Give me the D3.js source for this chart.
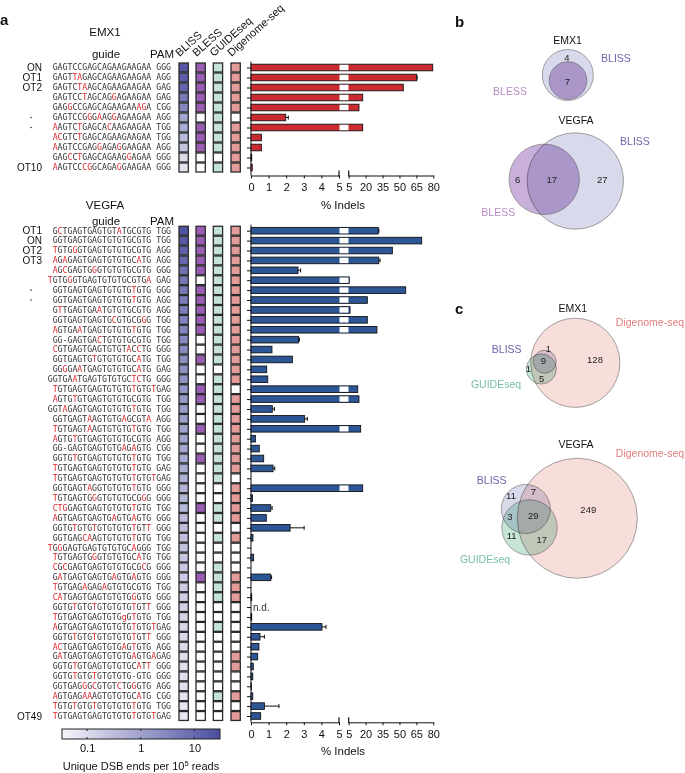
<!DOCTYPE html>
<html>
<head>
<meta charset="utf-8">
<script src="https://d3js.org/d3.v7.min.js"></script>
<style>
  body { margin: 0; background: #fff; }
  text { font-family: "Liberation Sans", Arial, sans-serif; fill: #111; }
  .seq { font-family: "DejaVu Sans Mono", monospace; font-size: 8.2px; white-space: pre; fill: #333; }
</style>
</head>
<body>
<script>
// ---------------- data ----------------
// lowercase letter = mismatch (drawn red), "%x" = red letter kept as typed
const emx1Labels = ["ON", "OT1", "OT2", "", "", "", "", "", "", "", "OT10"];
const emx1Seqs = [
  "GAGTCCGAGCAGAAGAAGAA GGG",
  "GAGTtaGAGCAGAAGAAGAA AGG",
  "GAGTCtaAGCAGAAGAAGAA GAG",
  "GAGTCCtAGCAGgAGAAGAA GAG",
  "GAGgCCGAGCAGAAGAAagA CGG",
  "GAGTCCGgGaAGgAGAAGAA AGG",
  "aAGTCtGAGCAcAAGAAGAA TGG",
  "acGTCtGAGCAGAAGAAGAA TGG",
  "aAGTCCGAGgAGAgGAAGAA AGG",
  "GAGcCtGAGCAGAAGgAGAA GGG",
  "aAGTCCcgGCAGAgGAAGAA GGG"
];
const emx1Bliss = [19, 15, 11, 5, 3, 0.9, 0.7, 0.4, 0.25, 0.1, 0.07];
const emx1Bless = [1, 1, 1, 1, 1, 0, 1, 1, 1, 0, 0];
const emx1Guide = [1, 1, 1, 1, 1, 1, 1, 1, 1, 0, 1];
const emx1Digenome = [1, 1, 1, 1, 1, 0, 1, 1, 1, 1, 1];
const emx1Indels = [79.5, 65.3, 53.4, 17.4, 14.1, 1.97, 17.4, 0.59, 0.59, 0.04, 0.07];
const emx1Err = [0, 0.4, 0, 0, 0, 0.15, 0, 0, 0, 0, 0];

const vegfaLabels = ["OT1", "ON", "OT2", "OT3"].concat(d3.range(45).map(() => ""), ["OT49"]);
const vegfaSeqs = [
  "GcTGAGTGAGTGTaTGCGTG TGG",
  "GGTGAGTGAGTGTGTGCGTG TGG",
  "tGTGgGTGAGTGTGTGCGTG AGG",
  "aGaGAGTGAGTGTGTGCaTG AGG",
  "aGcGAGTGgGTGTGTGCGTG GGG",
  "tGTGgGTGAGTGTGTGCGTGa GAG",
  "GGTGAGTGAGTGTGTGtGTG GGG",
  "GGTGAGTGAGTGTGTGtGTG AGG",
  "GtTGAGTGAaTGTGTGCGTG AGG",
  "GGTGAGTGAGTGcGTGCGgG TGG",
  "aGTGAaTGAGTGTGTGtGTG TGG",
  "GG-GAGTGAcTGTGTGCGTG TGG",
  "cGTGAGTGAGTGTGTaCcTG GGG",
  "GGTGAGTGtGTGTGTGCaTG TGG",
  "GGgGAaTGAGTGTGTGCaTG GAG",
  "GGTGAaTGAGTGTGTGCtcTG GGG",
  "tGTGAGTGAGTGTGTGtGTGtGAG",
  "aGTGtGTGAGTGTGTGCGTG TGG",
  "GGTaGAGTGAGTGTGTGtGTG TGG",
  "GGTGAGTaAGTGTGaGCGTa AGG",
  "tGTGAGTaAGTGTGTGtGTG TGG",
  "aGTGtGTGAGTGTGTGCGTG AGG",
  "GG-GAGTGAGTGTGaGaGTG CGG",
  "GGTGtGTGAGTGTGTGtGTG TGG",
  "tGTGAGTGAGTGTGTGtGTG GAG",
  "tGTGAGTGAGTGTGTGtGTGtGAG",
  "GGTGAGTaGGTGTGTGtGTG GGG",
  "tGTGAGTGgGTGTGTGCGgG GGG",
  "ctgGAGTGAGTGTGTGtGTG TGG",
  "aGTGAGTGAGTGaGTGaGTG GGG",
  "GGTGtGTGtGTGTGTGtGTt GGG",
  "GGTGAGcaAGTGTGTGtGTG TGG",
  "tGgGAGTGAGTGTGTGCaGGG TGG",
  "tGTGAGTGgGTGTGTGCaTG TGG",
  "cGcGAGTGAGTGTGTGCGcG GGG",
  "GaTGAGTGAGTGaGTGaGTG GGG",
  "tGTGAGaGAGaGTGTGCGTG TGG",
  "caTGAGTGAGTGTGTGgGTG GGG",
  "GGTGtGTGtGTGTGTGtGTt GGG",
  "tGTGAGTGAGTGTG%gGtGTG TGG",
  "aGTGAGTGAGTGTGTGtGTGtGAG",
  "GGTGtGTGtGTGTGTGtGTt GGG",
  "acTGAGTGAGTGTGaGtGTG AGG",
  "GaTGAGTGAGTGTGTGaGTGaGAG",
  "GGTGtGTGAGTGTGTGCaTt GGG",
  "GGTGtGTGtGTGTGTG-GTG GGG",
  "GGTGAGgGcGTGTcTGgGTG AGG",
  "aGTGAGaaAGTGTGTGCaTG CGG",
  "tGTGtGTGtGTGTGTGtGTG TGG",
  "tGTGAGTGAGTGTGTGtGTGtGAG"
];
const vegfaBliss = [24, 18, 13, 10, 7, 6, 5.2, 4.6, 4, 3.6, 3.2, 2.8, 2.5, 2.2, 2, 1.8, 1.6, 1.4,
  1.25, 1.1, 1, 0.9, 0.8, 0.72, 0.65, 0.58, 0.52, 0.47, 0.42, 0.38, 0.34, 0.3, 0.27, 0.24,
  0.22, 0.2, 0.18, 0.16, 0.15, 0.13, 0.12, 0.11, 0.1, 0.09, 0.085, 0.08, 0.075, 0.07, 0.065, 0.06];
const vegfaBless = [1,1,1,1,1,0,1,1,1,1, 1,0,0,1,0,0,1,1,0,0, 1,0,0,1,0,0,0,0,1,0,
  0,0,0,0,0,1,0,0,0,0, 0,0,0,0,0,0,0,0,0,0];
const vegfaGuide = [1,1,1,1,1,1,1,1,1,1, 1,1,1,1,0,1,1,1,1,1, 1,1,1,1,1,1,0,0,1,1,
  0,1,0,0,1,1,1,1,0,0, 1,0,0,0,0,0,0,1,0,0];
const vegfaDigenome = [1,1,1,1,1,1,1,1,1,1, 1,1,1,1,1,1,0,1,1,1, 1,1,1,1,1,0,1,1,1,1,
  0,1,0,0,0,1,1,1,0,0, 0,0,0,1,1,0,0,1,0,1];
const vegfaIndels = [31.2, 69.7, 43.7, 31.6, 2.67, 5.5, 55.5, 21.5, 6.2, 21.5,
  30, 2.7, 1.19, 2.35, 0.89, 0.95, 13, 14.1, 1.21, 3.05,
  15.6, 0.25, 0.47, 0.72, 1.25, 0, 17.4, 0.08, 1.12, 0.87,
  2.22, 0.11, 0, 0.15, 0, 1.12, 0, 0.04, null, 0.04,
  4.03, 0.51, 0.45, 0.38, 0.13, 0.1, 0.02, 0.1, 0.76, 0.55];
const vegfaErr = [0.6, 0, 0, 1.2, 0.15, 0, 0, 0, 0, 0,
  0, 0.05, 0, 0, 0, 0, 0, 0, 0.12, 0.15,
  0, 0, 0, 0, 0.1, 0, 0, 0, 0.08, 0,
  0.8, 0, 0, 0, 0, 0.05, 0, 0, 0, 0,
  0.23, 0.25, 0, 0, 0, 0, 0, 0, 0.83, 0];

const indelTicksA = [0, 1, 2, 3, 4, 5];
const indelTicksB = [5, 20, 35, 50, 65, 80];
const colorbarTicks = [0.1, 1, 10];

const vennBEmx1 = [4, 7];          // BLISS only, BLISS & BLESS
const vennBVegfa = [6, 17, 27];    // BLESS only, both, BLISS only
const vennCEmx1 = [1, 9, 1, 5, 128];
const vennCVegfa = [11, 7, 3, 29, 11, 17, 249];

// ---------------- setup ----------------
const W = 685, H = 773;
const svg = d3.select("body").append("svg").attr("width", W).attr("height", H);
svg.append("rect").attr("width", W).attr("height", H).attr("fill", "#fff");

const blissColor = d3.scaleLog().domain([0.034, 30]).range(["#f6f6fb", "#4a4d9e"]).clamp(true);
const colX = [179, 196, 213.3, 231];
const cellW = 9.3;
const onColors = [null, "#9a5db4", "#c4e3d6", "#e39c9a"];
const xA = d3.scaleLinear().domain([0, 5]).range([251, 339]);
const xB = d3.scaleLinear().domain([5, 80]).range([348.7, 433.3]);
const xv = v => v <= 5 ? xA(v) : xB(v);

function seqParts(s) {
  const parts = [];
  for (let i = 0; i < s.length; i++) {
    let ch = s[i], red = false;
    if (ch === "%") { ch = s[++i]; red = true; }
    else if (/[a-z]/.test(ch)) { ch = ch.toUpperCase(); red = true; }
    const last = parts[parts.length - 1];
    if (last && last.red === red) last.t += ch; else parts.push({ t: ch, red });
  }
  return parts;
}

function drawBlock(o) {
  const g = svg.append("g");
  const n = o.seqs.length;
  const y = d3.scalePoint().domain(d3.range(n)).range(o.yRange);
  const pitch = y.step();

  // title + headers
  g.append("text").attr("x", 105).attr("y", o.titleY).attr("text-anchor", "middle")
    .style("font-size", "11.5px").text(o.title);
  g.append("text").attr("x", 106).attr("y", o.headY).attr("text-anchor", "middle")
    .style("font-size", "11.5px").text("guide");
  g.append("text").attr("x", 162).attr("y", o.headY).attr("text-anchor", "middle")
    .style("font-size", "11.5px").text("PAM");

  // row labels
  g.selectAll(".rl").data(o.labels).enter().append("text")
    .attr("x", 42).attr("y", (d, i) => y(i)).attr("dy", "0.36em")
    .attr("text-anchor", "end").style("font-size", "10px").text(d => d);
  g.selectAll(".dot").data(o.dots).enter().append("circle")
    .attr("cx", 31).attr("cy", d => y(d)).attr("r", 0.8).attr("fill", "#333");

  // sequences
  o.seqs.forEach((s, i) => {
    const t = g.append("text").attr("class", "seq").attr("x", 171).attr("y", y(i))
      .attr("dy", "0.35em").attr("text-anchor", "end");
    seqParts(s).forEach(p => t.append("tspan").style("fill", p.red ? "#e0282c" : "#333").text(p.t));
  });

  // heat cells
  const cols = [o.bliss, o.bless, o.guide, o.dig];
  cols.forEach((vals, c) => {
    g.selectAll(null).data(vals).enter().append("rect")
      .attr("x", colX[c]).attr("y", (d, i) => y(i) - pitch / 2 + 0.5)
      .attr("width", cellW).attr("height", pitch - 1)
      .attr("fill", d => c === 0 ? blissColor(d) : (d ? onColors[c] : "#fff"))
      .attr("stroke", "#2a2a2a").attr("stroke-width", 1.3);
  });

  // bars
  const top = o.yRange[0] - 6;
  g.append("line").attr("x1", 251).attr("x2", 251).attr("y1", top).attr("y2", o.axisY)
    .attr("stroke", "#111");
  const ya = g.append("g").attr("transform", "translate(251,0)")
    .call(d3.axisLeft(y).tickSize(4).tickFormat(""));
  ya.select(".domain").remove();
  ya.selectAll("line").attr("stroke", "#111");

  const bh = 6.6;
  o.indels.forEach((v, i) => {
    if (v === null) {
      g.append("text").attr("x", 253).attr("y", y(i)).attr("dy", "0.35em")
        .style("font-size", "10px").style("fill", "#333").text("n.d.");
      return;
    }
    if (v <= 0) return;
    g.append("rect").attr("x", 251).attr("y", y(i) - bh / 2).attr("width", xv(v) - 251)
      .attr("height", bh).attr("fill", o.barColor).attr("stroke", "#111").attr("stroke-width", 0.9);
    if (v > 5) {
      g.append("rect").attr("x", 339.5).attr("y", y(i) - bh / 2 + 0.6).attr("width", 9)
        .attr("height", bh - 1.2).attr("fill", "#fff");
    }
    const e = o.err[i];
    if (e > 0) {
      const x1 = xv(v), x2 = xv(v + e);
      g.append("line").attr("x1", x1).attr("x2", x2).attr("y1", y(i)).attr("y2", y(i)).attr("stroke", "#111");
      g.append("line").attr("x1", x2).attr("x2", x2).attr("y1", y(i) - 2).attr("y2", y(i) + 2).attr("stroke", "#111");
    }
  });

  // broken x axis
  [[xA, indelTicksA], [xB, indelTicksB]].forEach(([sc, tv]) => {
    const ax = g.append("g").attr("transform", `translate(0,${o.axisY})`)
      .call(d3.axisBottom(sc).tickValues(tv).tickFormat(d3.format("d"))
        .tickSize(3).tickSizeOuter(0).tickPadding(5));
    ax.attr("font-family", null);
    ax.selectAll("text").style("font-size", "11px").attr("fill", "#111");
    ax.selectAll("line, path").attr("stroke", "#111");
  });
  [339, 348.7].forEach(x => g.append("line").attr("x1", x).attr("x2", x)
    .attr("y1", o.axisY - 5).attr("y2", o.axisY + 1).attr("stroke", "#111").attr("stroke-width", 1.2));
  g.append("text").attr("x", 343).attr("y", o.axisY + 33).attr("text-anchor", "middle")
    .style("font-size", "11.5px").text("% Indels");
}

// column headers
["BLISS", "BLESS", "GUIDEseq", "Digenome-seq"].forEach((t, c) => {
  svg.append("text").attr("transform", `translate(${colX[c] + 0.5},57) rotate(-42)`)
    .style("font-size", "11px").text(t);
});
svg.append("text").attr("x", 0).attr("y", 25).style("font-size", "15px").style("font-weight", "bold").text("a");

drawBlock({
  title: "EMX1", titleY: 36, headY: 58, seqs: emx1Seqs, labels: emx1Labels,
  bliss: emx1Bliss, bless: emx1Bless, guide: emx1Guide, dig: emx1Digenome,
  indels: emx1Indels, err: emx1Err, yRange: [67.5, 167.5], axisY: 175.5,
  barColor: "#cb2a30", dots: [5, 6]
});
drawBlock({
  title: "VEGFA", titleY: 209, headY: 225, seqs: vegfaSeqs, labels: vegfaLabels,
  bliss: vegfaBliss, bless: vegfaBless, guide: vegfaGuide, dig: vegfaDigenome,
  indels: vegfaIndels, err: vegfaErr, yRange: [230.7, 716], axisY: 722.3,
  barColor: "#2c5696", dots: [6, 7]
});

// colour bar
const cb = d3.scaleLog().domain([0.034, 30]).range([62, 220]);
const grad = svg.append("defs").append("linearGradient").attr("id", "cbg");
d3.range(0, 1.001, 0.1).forEach(t => {
  grad.append("stop").attr("offset", t).attr("stop-color", blissColor(cb.invert(62 + t * 158)));
});
svg.append("rect").attr("x", 62).attr("y", 729).attr("width", 158).attr("height", 10)
  .attr("fill", "url(#cbg)").attr("stroke", "#222").attr("stroke-width", 1);
const cbAx = svg.append("g").attr("transform", "translate(0,739)")
  .call(d3.axisBottom(cb).tickValues(colorbarTicks).tickSize(0).tickPadding(5).tickFormat(d3.format("")));
cbAx.attr("font-family", null);
cbAx.select(".domain").remove();
cbAx.selectAll("text").style("font-size", "11px").attr("fill", "#111");
colorbarTicks.forEach(v => {
  svg.append("line").attr("x1", cb(v)).attr("x2", cb(v)).attr("y1", 729).attr("y2", 731).attr("stroke", "#222");
  svg.append("line").attr("x1", cb(v)).attr("x2", cb(v)).attr("y1", 737).attr("y2", 739).attr("stroke", "#222");
});
const cbt = svg.append("text").attr("x", 141).attr("y", 770).attr("text-anchor", "middle").style("font-size", "11px");
cbt.append("tspan").text("Unique DSB ends per 10");
cbt.append("tspan").attr("dy", -4).style("font-size", "7.5px").text("5");
cbt.append("tspan").attr("dy", 4).text(" reads");

// ---------------- Venn panels ----------------
const C = { bliss: "#6a63a8", bless: "#b78bc5", guide: "#78bea4", dig: "#e07c7c" };
const FILL = { bliss: "#d9d9ec", bless: "#c8b0da", guide: "#c6e5d6", dig: "#f8dedb" };
function circ(cx, cy, r, k) {
  svg.append("circle").attr("cx", cx).attr("cy", cy).attr("r", r).attr("fill", FILL[k])
    .attr("stroke", "#8a8a8a").attr("stroke-width", 0.8).style("mix-blend-mode", "multiply");
}
function label(x, y, t, col, size) {
  svg.append("text").attr("x", x).attr("y", y).attr("dy", "0.35em").attr("text-anchor", "middle")
    .style("font-size", size + "px").style("fill", col).text(t);
}

svg.append("text").attr("x", 455).attr("y", 26.5).style("font-size", "15px").style("font-weight", "bold").text("b");
label(567.5, 40.7, "EMX1", "#111", 10.5);
circ(567.8, 75, 25.5, "bliss");
circ(568, 80.5, 18.8, "bless");
label(567, 57.3, vennBEmx1[0], "#222", 9.5);
label(567.3, 81.7, vennBEmx1[1], "#222", 9.5);
label(616, 58.3, "BLISS", C.bliss, 10.5);
label(510, 91, "BLESS", C.bless, 10.5);

label(576, 120.7, "VEGFA", "#111", 10.5);
circ(575.3, 181, 48.2, "bliss");
circ(544.2, 179.3, 35.2, "bless");
label(517.7, 180, vennBVegfa[0], "#222", 9.5);
label(551.7, 180, vennBVegfa[1], "#222", 9.5);
label(602.3, 180, vennBVegfa[2], "#222", 9.5);
label(635, 141.7, "BLISS", C.bliss, 10.5);
label(498.3, 212.3, "BLESS", C.bless, 10.5);

svg.append("text").attr("x", 455).attr("y", 313.5).style("font-size", "15px").style("font-weight", "bold").text("c");
label(572.7, 308.3, "EMX1", "#111", 10.5);
circ(575.3, 362.8, 44.6, "dig");
circ(541.3, 369, 15, "guide");
circ(544.7, 361.7, 11.5, "bliss");
[[548.3, 349], [543.3, 361], [528.3, 368.3], [541.7, 378.3], [595, 360]].forEach((p, i) =>
  label(p[0], p[1], vennCEmx1[i], "#222", 9.5));
label(506.7, 349, "BLISS", C.bliss, 10.5);
label(496, 384, "GUIDEseq", C.guide, 10.5);
label(650, 322.3, "Digenome-seq", C.dig, 10.5);

label(576, 444, "VEGFA", "#111", 10.5);
circ(577.3, 518.3, 60, "dig");
circ(525.8, 509, 24.5, "bliss");
circ(529.5, 527.5, 27.7, "guide");
[[511, 496], [533.3, 491.7], [510, 516.7], [533.3, 515.7], [511.7, 536], [541.7, 540], [588.3, 510]]
  .forEach((p, i) => label(p[0], p[1], vennCVegfa[i], "#222", 9.5));
label(491.7, 480.7, "BLISS", C.bliss, 10.5);
label(485, 559.3, "GUIDEseq", C.guide, 10.5);
label(650, 453.3, "Digenome-seq", C.dig, 10.5);
</script>
</body>
</html>
